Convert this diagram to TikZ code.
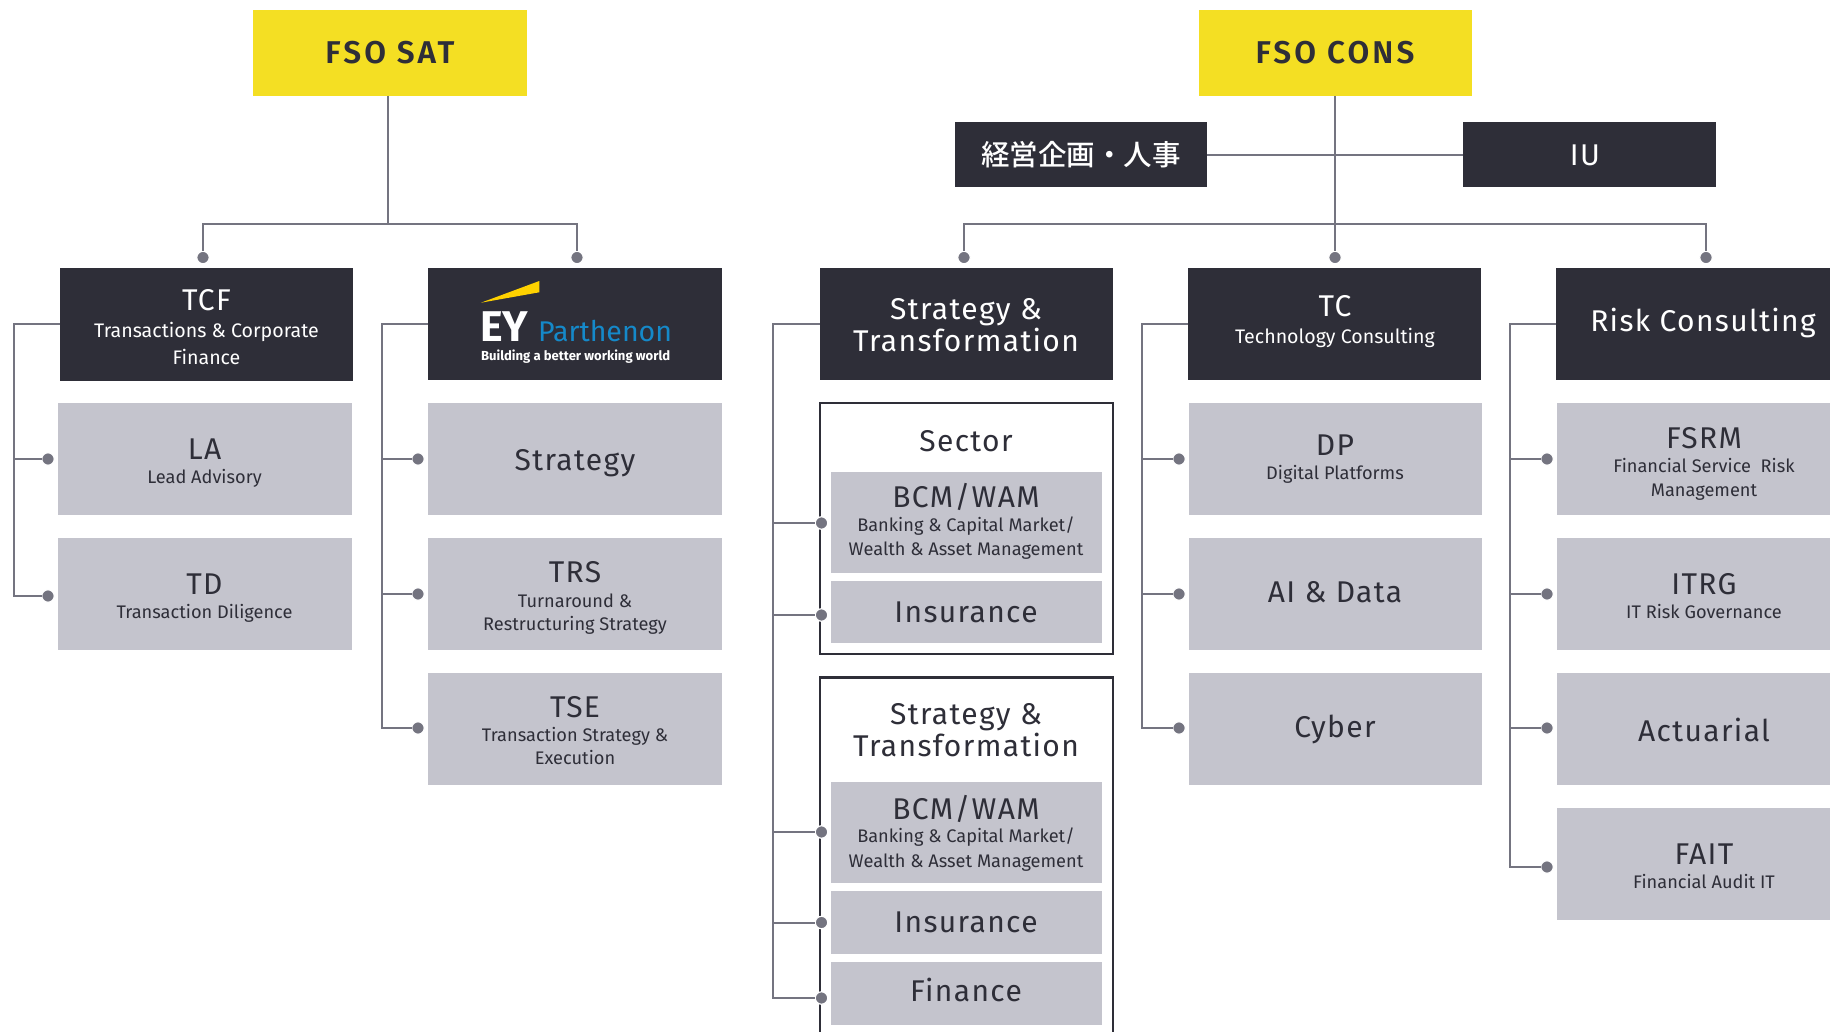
\documentclass[tikz,border=0pt]{standalone}
\usepackage{fontspec}
\setmainfont{Fira Sans}
\newfontfamily\ttlfont[LetterSpace=4.5]{Fira Sans}
\newfontfamily\headfont[LetterSpace=10]{Fira Sans SemiBold}
\newfontfamily\cjkfont{Noto Sans CJK JP Medium}
\definecolor{eydark}{HTML}{2E2E38}
\definecolor{eyyellow}{HTML}{F4DF23}
\definecolor{eygray}{HTML}{C4C4CD}
\definecolor{eyline}{HTML}{747480}
\definecolor{eyblue}{HTML}{1589C9}
\definecolor{eylogo}{HTML}{FFD200}
\tikzset{
  base/.style={inner sep=0pt,outer sep=0pt,draw=none},
  yellowbox/.style={base,fill=eyyellow},
  darkbox/.style={base,fill=eydark},
  graybox/.style={base,fill=eygray},
  framebox/.style={base,draw=eydark,line width=2.4pt,fill=white},
  txt/.style={inner sep=0pt,outer sep=0pt,align=center},
  ttl/.style={txt,font=\fontsize{30}{30}\ttlfont,text height=21.5pt,text depth=0pt,text=eydark},
  ttlw/.style={ttl,text=white},
  subt/.style={txt,font=\fontsize{18.2}{19}\selectfont,text height=12.5pt,text depth=0pt,text=eydark},
  subw/.style={subt,font=\fontsize{19.6}{20}\selectfont,text=white},
  head/.style={txt,font=\fontsize{31.5}{32}\headfont,text height=21.5pt,text depth=0pt,text=eydark},
  conn/.style={draw=eyline,line width=2pt,line join=miter},
  dotn/.style={circle,fill=eyline,draw=white,line width=1.2pt,minimum size=12.5pt,inner sep=0pt,outer sep=0pt},
}
\newcommand{\bx}[6]{\node[#1,minimum width={#5-#3},minimum height={#6-#4}] (#2) at ({(#3+#5)/2},{(#4+#6)/2}) {};}
\newcommand{\tx}[5]{\node[#1] (#2) at (#3,#4) {#5};}
\newcommand{\dt}[3]{\node[dotn] (#1) at (#2,#3) {};}
\begin{document}
\begin{tikzpicture}[x=1pt,y=-1pt]
\useasboundingbox (0,0) rectangle (1830,1032);
\clip (0,0) rectangle (1830,1032);
\fill[white] (0,0) rectangle (1830,1032);
% boxes
\bx{yellowbox}{sat}{253}{10.5}{527}{96}
\bx{yellowbox}{cons}{1198.5}{10.5}{1472}{96}
\bx{darkbox}{kei}{954.5}{122.5}{1207}{187.5}
\bx{darkbox}{iu}{1463}{122.5}{1716}{187.5}
\bx{darkbox}{tcf}{60}{268}{353}{380.5}
\bx{darkbox}{eyp}{428}{268}{722}{380}
\bx{darkbox}{st}{819.5}{268}{1112.5}{380}
\bx{darkbox}{tc}{1188}{268}{1481}{380}
\bx{darkbox}{rc}{1556}{268}{1860}{380}
\bx{graybox}{la}{58}{403}{351.5}{515}
\bx{graybox}{td}{58}{538}{351.5}{650}
\bx{graybox}{strat}{428}{403}{722}{515}
\bx{graybox}{trs}{428}{538}{722}{650}
\bx{graybox}{tse}{428}{673}{722}{785}
\bx{framebox}{sec}{820}{403}{1113}{654}
\bx{graybox}{bcma}{831}{471.5}{1101.5}{572.5}
\bx{graybox}{insa}{831}{580.5}{1101.5}{643}
\bx{framebox}{stb}{820}{677.5}{1113}{1060}
\bx{graybox}{bcmb}{831}{781.5}{1101.5}{882.5}
\bx{graybox}{insb}{831}{890.5}{1101.5}{953.5}
\bx{graybox}{fin}{831}{961.5}{1101.5}{1024.5}
\bx{graybox}{dp}{1188.5}{403}{1481.5}{515}
\bx{graybox}{ai}{1188.5}{538}{1481.5}{650}
\bx{graybox}{cy}{1188.5}{673}{1481.5}{785}
\bx{graybox}{fsrm}{1557}{403}{1860}{515}
\bx{graybox}{itrg}{1557}{538}{1860}{650}
\bx{graybox}{act}{1557}{673}{1860}{785}
\bx{graybox}{fait}{1557}{808}{1860}{920}
% dots
\dt{da}{203}{257.5}\dt{db}{577}{257.5}
\dt{dc}{964}{257.5}\dt{dd}{1335}{257.5}\dt{de}{1706}{257.5}
\dt{dla}{48}{459}\dt{dtd}{48}{596}
\dt{dstrat}{418}{459}\dt{dtrs}{418}{594}\dt{dtse}{418}{728}
\dt{dbcma}{821.5}{523}\dt{dinsa}{821.5}{615}\dt{dbcmb}{821.5}{832}\dt{dinsb}{821.5}{922.5}\dt{dfin}{821.5}{998}
\dt{ddp}{1179}{459}\dt{dai}{1179}{594}\dt{dcy}{1179}{728}
\dt{dfs}{1547}{459}\dt{dit}{1547}{594}\dt{dac}{1547}{728}\dt{dfa}{1547}{867}
% spine coordinates
\coordinate (busa) at (388,224.5);
\coordinate (busb) at (1335,224.5);
\coordinate (spa) at (14,596);
\coordinate (spb) at (382,728);
\coordinate (spc) at (773,998);
\coordinate (spd) at (1141.5,728);
\coordinate (spe) at (1510,867);
% connectors
\draw[conn] (sat.south -| busa) -- (busa);
\draw[conn] (da.north) |- (busa) -| (db.north);
\draw[conn] (cons.south -| busb) -- (dd.north);
\draw[conn] (dc.north) |- (busb) -| (de.north);
\draw[conn] (kei.east) -- (iu.west);
\draw[conn] (tcf.west) -| (spa) -- (dtd.west);
\draw[conn] (spa |- dla) -- (dla.west);
\draw[conn] (eyp.west) -| (spb) -- (dtse.west);
\draw[conn] (spb |- dstrat) -- (dstrat.west);
\draw[conn] (spb |- dtrs) -- (dtrs.west);
\draw[conn] (st.west) -| (spc) -- (dfin.west);
\draw[conn] (spc |- dbcma) -- (dbcma.west);
\draw[conn] (spc |- dinsa) -- (dinsa.west);
\draw[conn] (spc |- dbcmb) -- (dbcmb.west);
\draw[conn] (spc |- dinsb) -- (dinsb.west);
\draw[conn] (tc.west) -| (spd) -- (dcy.west);
\draw[conn] (spd |- ddp) -- (ddp.west);
\draw[conn] (spd |- dai) -- (dai.west);
\draw[conn] (rc.west) -| (spe) -- (dfa.west);
\draw[conn] (spe |- dfs) -- (dfs.west);
\draw[conn] (spe |- dit) -- (dit.west);
\draw[conn] (spe |- dac) -- (dac.west);
% texts
\tx{head}{tsat}{390}{52.5}{FSO SAT}
\tx{head}{tcons}{1335}{52.5}{FSO CONS}
\node[txt,font=\fontsize{28.5}{29}\cjkfont,text=white] (tkei) at (1081,155) {経営企画・人事};
\tx{ttlw}{tiu}{1585}{155}{IU}
\tx{ttlw}{ttcf}{206.5}{300}{TCF}
\tx{subw}{ttcfa}{206.5}{331.5}{Transactions \& Corporate}
\tx{subw}{ttcfb}{206.5}{358.5}{Finance}
\tx{ttl}{tla}{204.5}{449}{LA}
\tx{subt}{tlas}{204.5}{477.5}{Lead Advisory}
\tx{ttl}{ttd}{204.5}{583.5}{TD}
\tx{subt}{ttds}{204.5}{612}{Transaction Diligence}
% logo
\fill[eylogo] (481,302.7) -- (539.3,281) -- (539.3,292.3) -- cycle;
\node[txt,anchor=base west,font=\fontsize{43}{43}\selectfont\bfseries,text=white] (tey) at (480,341) {EY};
\node[txt,anchor=base west,font=\fontsize{28.5}{29}\selectfont,text=eyblue] (tpar) at (538,341) {Parthenon};
\node[txt,anchor=base west,font=\fontsize{13.1}{14}\selectfont\bfseries,text=white] (tbui) at (481,360) {Building a better working world};
\tx{ttl}{tstrat}{575}{460}{Strategy}
\tx{ttl}{ttrs}{575}{572}{TRS}
\tx{subt}{ttrsa}{575}{601}{Turnaround \&}
\tx{subt}{ttrsb}{575}{624}{Restructuring Strategy}
\tx{ttl}{ttse}{575}{707}{TSE}
\tx{subt}{ttsea}{575}{735}{Transaction Strategy \&}
\tx{subt}{ttseb}{575}{758.5}{Execution}
\tx{ttlw}{tsta}{966}{309}{Strategy \&}
\tx{ttlw}{tstb}{966}{341}{Transformation}
\tx{ttl}{tsec}{966}{441}{Sector}
\tx{ttl}{tbcma}{966}{497}{BCM/WAM}
\tx{subt}{tbcmaa}{966}{525}{Banking \& Capital Market/}
\tx{subt}{tbcmab}{966}{549.5}{Wealth \& Asset Management}
\tx{ttl}{tinsa}{966}{612}{Insurance}
\tx{ttl}{tstc}{966}{714}{Strategy \&}
\tx{ttl}{tstd}{966}{746}{Transformation}
\tx{ttl}{tbcmb}{966}{808.5}{BCM/WAM}
\tx{subt}{tbcmba}{966}{836.5}{Banking \& Capital Market/}
\tx{subt}{tbcmbb}{966}{861}{Wealth \& Asset Management}
\tx{ttl}{tinsb}{966}{922}{Insurance}
\tx{ttl}{tfin}{966}{991}{Finance}
\tx{ttlw}{ttc}{1335}{306}{TC}
\tx{subw}{ttcs}{1335}{337}{Technology Consulting}
\tx{ttl}{tdp}{1335}{444.5}{DP}
\tx{subt}{tdps}{1335}{473}{Digital Platforms}
\tx{ttl}{tai}{1335}{591.5}{AI \& Data}
\tx{ttl}{tcy}{1335}{727}{Cyber}
\tx{ttlw}{trc}{1703}{321}{Risk Consulting}
\tx{ttl}{tfs}{1704}{437.5}{FSRM}
\tx{subt}{tfsa}{1704}{466}{Financial Service\ \ Risk}
\tx{subt}{tfsb}{1704}{490}{Management}
\tx{ttl}{tit}{1704}{583.5}{ITRG}
\tx{subt}{tits}{1704}{612}{IT Risk Governance}
\tx{ttl}{tac}{1704}{730.5}{Actuarial}
\tx{ttl}{tfa}{1704}{854}{FAIT}
\tx{subt}{tfas}{1704}{882.5}{Financial Audit IT}
\end{tikzpicture}
\end{document}
